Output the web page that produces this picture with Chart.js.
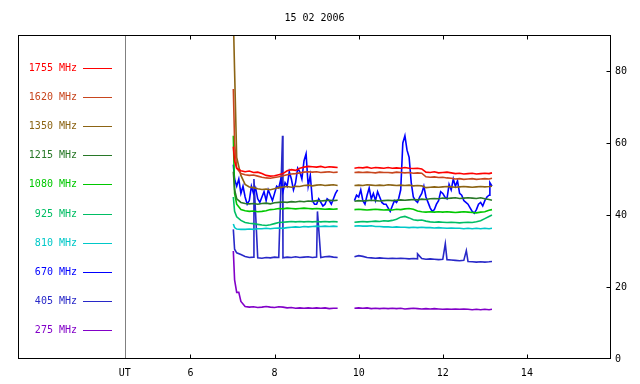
<!DOCTYPE html>
<html>
<head>
<meta charset="utf-8">
<script src="https://cdn.jsdelivr.net/npm/chart.js@4.4.0/dist/chart.umd.min.js"></script>
<style>
  html, body { margin: 0; padding: 0; background: #fff; }
  canvas { display: block; }
</style>
</head>
<body>
<canvas id="myChart" width="640" height="384"></canvas>
<script>
/* Radio flux 15 02 2006 */
const titleText = '15 02 2006';
const utHour = 4.44;
const xTickHours = [6, 8, 10, 12, 14];
const yTickValues = [0, 20, 40, 60, 80];

const hours = [
  7.02, 7.05, 7.1, 7.2, 7.3, 7.4, 7.5, 7.6, 7.7, 7.8, 7.9, 8.0, 8.1, 8.2, 8.3, 8.4, 8.5, 8.6, 8.7, 8.8, 8.9, 9.0, 9.1, 9.2, 9.3, 9.4, 9.5,
  9.7,
  9.9, 10.0, 10.1, 10.2, 10.3, 10.4, 10.5, 10.6, 10.7, 10.8, 10.9, 11.0, 11.1, 11.2, 11.3, 11.4, 11.5, 11.6, 11.7, 11.8, 11.9,
  12.0, 12.1, 12.2, 12.3, 12.4, 12.5, 12.6, 12.7, 12.8, 12.9, 13.0, 13.1, 13.17
];

const labels = ['1755 MHz', '1620 MHz', '1350 MHz', '1215 MHz', '1080 MHz', '925 MHz', '810 MHz', '670 MHz', '405 MHz', '275 MHz'];
const colors = ['#ff0000', '#c8461e', '#8c6414', '#287828', '#00c800', '#00be64', '#00c8c8', '#0000ff', '#2828c8', '#8200c8'];

const f1755 = [59, 55, 53, 52.3, 52, 52.2, 51.8, 51.9, 51.5, 51, 50.8, 50.9, 51.2, 51.5, 52.3, 52.6, 52.4, 53, 53.3, 53.5, 53.4, 53.3, 53.5, 53.2, 53.4, 53.3, 53.2,
  null,
  53, 53.2, 53.1, 53.3, 53, 53.2, 53.1, 53, 53.2, 53, 53.1, 53, 53.2, 53, 52.9, 53, 52.8, 51.9, 51.8, 52, 51.7,
  51.8, 51.9, 51.7, 51.5, 51.6, 51.4, 51.5, 51.6, 51.4, 51.5, 51.6, 51.5, 51.7];
const f1620 = [75, 60, 53, 51.5, 51.2, 51, 51.1, 50.8, 50.5, 50.3, 50.2, 50.4, 50.6, 50.9, 51.2, 51.4, 51.5, 51.7, 51.9, 52, 51.9, 52, 51.8, 51.9, 52, 51.8, 51.9,
  null,
  51.8, 51.9, 51.8, 51.9, 51.8, 51.7, 51.9, 51.8, 51.8, 51.7, 51.9, 51.8, 51.7, 51.8, 51.6, 51.7, 51.6, 50.6, 50.5, 50.6, 50.4,
  50.5, 50.3, 50.2, 50, 50.1, 49.9, 50, 50.1, 49.9, 50, 50.1, 50, 50.2];
const f1350 = [95, 80, 56, 51, 48.5, 47.8, 47.6, 47.3, 47.1, 47.2, 47, 47.3, 47.6, 47.8, 47.9, 47.7, 48, 47.9, 48.2, 48.3, 48.1, 48.3, 48.4, 48.2, 48.3, 48.4, 48.2,
  null,
  48.2, 48.3, 48.2, 48.4, 48.3, 48.2, 48.3, 48.2, 48.4, 48.3, 48.2, 48.3, 48.2, 48.3, 48.1, 48.2, 48.1, 47.6, 47.7, 47.8, 47.7,
  47.8, 47.9, 47.8, 47.7, 47.8, 47.9, 47.8, 47.7, 47.8, 47.9, 47.8, 47.9, 48];
const f1215 = [52, 47, 44.5, 43.5, 43.2, 43.1, 43.2, 43, 43.2, 43.3, 43.1, 43.4, 43.5, 43.6, 43.5, 43.7, 43.6, 43.8, 43.7, 43.9, 43.8, 44, 43.9, 44, 44.1, 44, 44.1,
  null,
  43.8, 44, 43.9, 44, 44.1, 44, 43.9, 44, 44.1, 44, 44.1, 44.2, 44.1, 44.2, 44.3, 44.2, 44.4, 44.3, 44.5, 44.6, 44.5,
  44.7, 44.6, 44.7, 44.8, 44.6, 44.7, 44.8, 44.7, 44.6, 44.8, 44.5, 44.3, 44.1];
const f1080 = [62, 46, 43, 41.5, 41.2, 41, 41.1, 40.9, 41, 41.2, 41.5, 41.6, 41.8, 41.7, 41.9, 41.8, 41.7, 41.8, 41.9, 41.8, 41.7, 41.8, 41.7, 41.6, 41.7, 41.6, 41.7,
  null,
  41.5, 41.6, 41.5, 41.4, 41.5, 41.6, 41.5, 41.4, 41.5, 41.4, 41.6, 41.5, 41.7, 41.8, 41.6, 41.1, 40.9, 40.8, 40.9, 40.8, 40.9,
  40.8, 40.9, 40.8, 40.7, 40.8, 40.9, 40.8, 40.7, 40.6, 40.8, 40.9, 41.3, 41.5];
const f925 = [45, 41, 39.5, 38.5, 37.9, 37.7, 37.6, 37.4, 37.2, 37.1, 37.3, 37.6, 37.9, 38, 38.1, 38.2, 38.1, 38.2, 38.1, 38.2, 38.1, 38.2, 38.1, 38.2, 38.1, 38.2, 38.1,
  null,
  38, 38.1, 38.2, 38.1, 38.2, 38.3, 38.2, 38.4, 38.3, 38.5, 38.8, 39.4, 39.6, 39.2, 38.7, 38.5, 38.6, 38.3, 38.1, 38, 38.1,
  38, 37.9, 38, 37.9, 37.8, 37.9, 38, 37.9, 38.1, 38.4, 39, 39.6, 40];
const f810 = [37.5, 36.5, 36.1, 36, 36, 36.1, 36, 36.2, 36.2, 36.3, 36.2, 36.3, 36.4, 36.3, 36.5, 36.6, 36.7, 36.6, 36.8, 36.7, 36.8, 36.9, 36.8, 36.9, 36.8, 36.9, 36.8,
  null,
  36.9, 37, 36.9, 36.9, 37, 36.8, 36.8, 36.7, 36.7, 36.6, 36.7, 36.6, 36.6, 36.5, 36.6, 36.5, 36.6, 36.5, 36.5, 36.4, 36.5,
  36.4, 36.3, 36.4, 36.3, 36.3, 36.2, 36.3, 36.2, 36.3, 36.2, 36.3, 36.2, 36.3];
const f670 = [54, 50, 48, 46, 45, 44, 46, 44.5, 45, 44, 45.5, 46, 47.5, 46.5, 48, 50, 49, 52, 55, 48, 44, 43, 43.5, 43, 44, 44.5, 47,
  null,
  44, 45, 44, 45.5, 44.5, 44, 45, 43, 42, 42.5, 43.5, 47, 62, 56, 45, 43.5, 46, 45, 42, 41.5, 44,
  46, 44.5, 47, 48, 46, 44, 43, 41, 41.5, 43.5, 44, 45.5, 48];
const f405 = [36, 30.5, 29.5, 29, 28.5, 28.2, 28.3, 28.1, 28, 28.2, 28.1, 28.3, 28.2, 28.1, 28.3, 28.2, 28.4, 28.2, 28.3, 28.4, 28.2, 28.3, 28.2, 28.4, 28.5, 28.3, 28.2,
  null,
  28.4, 28.7, 28.5, 28.2, 28.1, 28, 28.1, 28, 27.9, 28, 27.9, 28, 27.9, 27.8, 27.9, 27.8, 27.9, 27.7, 27.8, 27.7, 27.6,
  27.7, 27.6, 27.5, 27.4, 27.3, 27.4, 27.1, 27, 26.9, 27, 26.9, 27, 27.1];
const f275 = [30, 22, 18.5, 16, 14.6, 14.4, 14.5, 14.3, 14.4, 14.6, 14.4, 14.3, 14.5, 14.4, 14.2, 14.3, 14.1, 14.2, 14.1, 14.2, 14.1, 14.2, 14.1, 14.2, 14, 14.1, 14.1,
  null,
  14.1, 14.2, 14.1, 14.2, 14, 14.1, 14, 14.1, 14, 14.1, 14, 14.1, 13.9, 14, 14.1, 14, 13.9, 14, 13.9, 14, 13.9,
  13.8, 13.9, 13.8, 13.9, 13.8, 13.9, 13.8, 13.7, 13.8, 13.7, 13.8, 13.7, 13.8];

// short bursts between the regular samples: [hour, value]
const spikes670 = [[7.15, 50], [7.25, 48], [7.35, 43], [7.45, 48], [7.55, 47.5], [7.65, 43.5], [7.75, 46.5], [7.85, 47], [7.95, 44],
  [8.05, 48], [8.15, 50], [8.25, 49], [8.35, 52], [8.45, 47], [8.55, 53], [8.65, 50], [8.75, 57], [8.85, 51], [8.95, 43],
  [9.05, 44.5], [9.15, 42.5], [9.25, 44.5], [9.35, 43], [9.45, 46],
  [9.95, 45.5], [10.05, 47], [10.15, 43], [10.25, 47.5], [10.35, 46], [10.45, 46.5], [10.55, 43.5], [10.65, 43], [10.75, 41],
  [10.85, 44], [10.95, 44.5], [11.05, 60], [11.15, 58], [11.25, 49], [11.35, 44], [11.45, 45], [11.55, 48], [11.65, 43.5],
  [11.75, 41], [11.85, 43], [11.95, 46.5], [12.05, 45], [12.15, 48.5], [12.25, 50], [12.35, 49.5], [12.45, 45.5], [12.55, 43.5],
  [12.65, 42], [12.75, 40.5], [12.85, 43], [12.95, 42.5], [13.05, 45], [13.12, 49]];
const spikes405 = [[7.51, 50], [8.19, 62], [9.02, 41], [11.4, 29.2], [12.06, 32], [12.56, 30.1]];
const spikes275 = [[7.15, 18.5]];

const series = [f1755, f1620, f1350, f1215, f1080, f925, f810, f670, f405, f275];
const seriesSpikes = [[], [], [], [], [], [], [], spikes670, spikes405, spikes275];

const MONO = '10px "DejaVu Sans Mono", monospace';

function buildData(vals, extra) {
  const pts = hours.map((h, i) => ({ x: h, y: vals[i] }));
  extra.forEach(s => pts.push({ x: s[0], y: s[1] }));
  pts.sort((a, b) => a.x - b.x);
  return pts;
}

const datasets = series.map((vals, i) => ({
  label: labels[i],
  data: buildData(vals, seriesSpikes[i]),
  borderColor: colors[i],
  borderWidth: 1.6,
  pointRadius: 0,
  tension: 0,
  spanGaps: false
}));

const framePlugin = {
  id: 'frame',
  beforeDatasetsDraw(chart) {
    const { ctx, chartArea: a, scales } = chart;
    const ux = Math.round(scales.x.getPixelForValue(utHour)) + 0.5;
    ctx.save();
    ctx.strokeStyle = '#808080';
    ctx.lineWidth = 1;
    ctx.beginPath();
    ctx.moveTo(ux, a.top);
    ctx.lineTo(ux, a.bottom);
    ctx.stroke();
    ctx.restore();
  },
  afterDraw(chart) {
    const { ctx, chartArea: a, scales } = chart;
    ctx.save();
    ctx.strokeStyle = '#000';
    ctx.lineWidth = 1;
    const l = Math.round(a.left) + 0.5, r = Math.round(a.right) - 0.5;
    const t = Math.round(a.top) + 0.5, b = Math.round(a.bottom) - 0.5;
    ctx.strokeRect(l, t, r - l, b - t);
    ctx.beginPath();
    xTickHours.forEach(h => {
      const x = Math.round(scales.x.getPixelForValue(h)) + 0.5;
      ctx.moveTo(x, b); ctx.lineTo(x, b - 4);
      ctx.moveTo(x, t); ctx.lineTo(x, t + 4);
    });
    yTickValues.forEach(v => {
      if (v === 0) return;
      const y = Math.round(scales.y.getPixelForValue(v)) + 0.5;
      ctx.moveTo(r, y); ctx.lineTo(r - 4, y);
    });
    ctx.stroke();

    // title
    ctx.font = MONO;
    ctx.fillStyle = '#000';
    ctx.textAlign = 'center';
    ctx.textBaseline = 'middle';
    ctx.fillText(titleText, (a.left + a.right) / 2, 18);

    // legend column
    labels.forEach((lab, i) => {
      const y = Math.round(67.5 + i * 29.2) + 0.5;
      ctx.fillStyle = colors[i];
      ctx.textAlign = 'right';
      ctx.fillText(lab, 77, y);
      ctx.strokeStyle = colors[i];
      ctx.beginPath();
      ctx.moveTo(83, y);
      ctx.lineTo(112, y);
      ctx.stroke();
    });
    ctx.restore();
  }
};

const config = {
  type: 'line',
  data: { datasets: datasets },
  options: {
    responsive: false,
    animation: false,
    layout: { padding: { left: 18, top: 35, right: 0, bottom: 0 } },
    plugins: { legend: { display: false }, tooltip: { enabled: false } },
    scales: {
      x: {
        type: 'linear',
        position: 'bottom',
        min: 1.9,
        max: 16.0,
        grid: { drawOnChartArea: false, drawTicks: false },
        border: { display: false },
        afterBuildTicks: s => { s.ticks = [utHour].concat(xTickHours).map(v => ({ value: v })); },
        afterFit: s => { s.height = 25; },
        ticks: {
          color: '#000',
          font: { family: '"DejaVu Sans Mono", monospace', size: 10 },
          padding: 8,
          maxRotation: 0,
          autoSkip: false,
          callback: v => (v === utHour ? 'UT' : String(v))
        }
      },
      y: {
        position: 'right',
        min: 0,
        max: 90,
        grid: { drawOnChartArea: false, drawTicks: false },
        border: { display: false },
        afterBuildTicks: s => { s.ticks = yTickValues.map(v => ({ value: v })); },
        afterFit: s => { s.width = 29; },
        ticks: {
          color: '#000',
          font: { family: '"DejaVu Sans Mono", monospace', size: 10 },
          padding: 4
        }
      }
    }
  },
  plugins: [framePlugin]
};

const myChart = new Chart(document.getElementById('myChart'), config);
</script>
</body>
</html>
